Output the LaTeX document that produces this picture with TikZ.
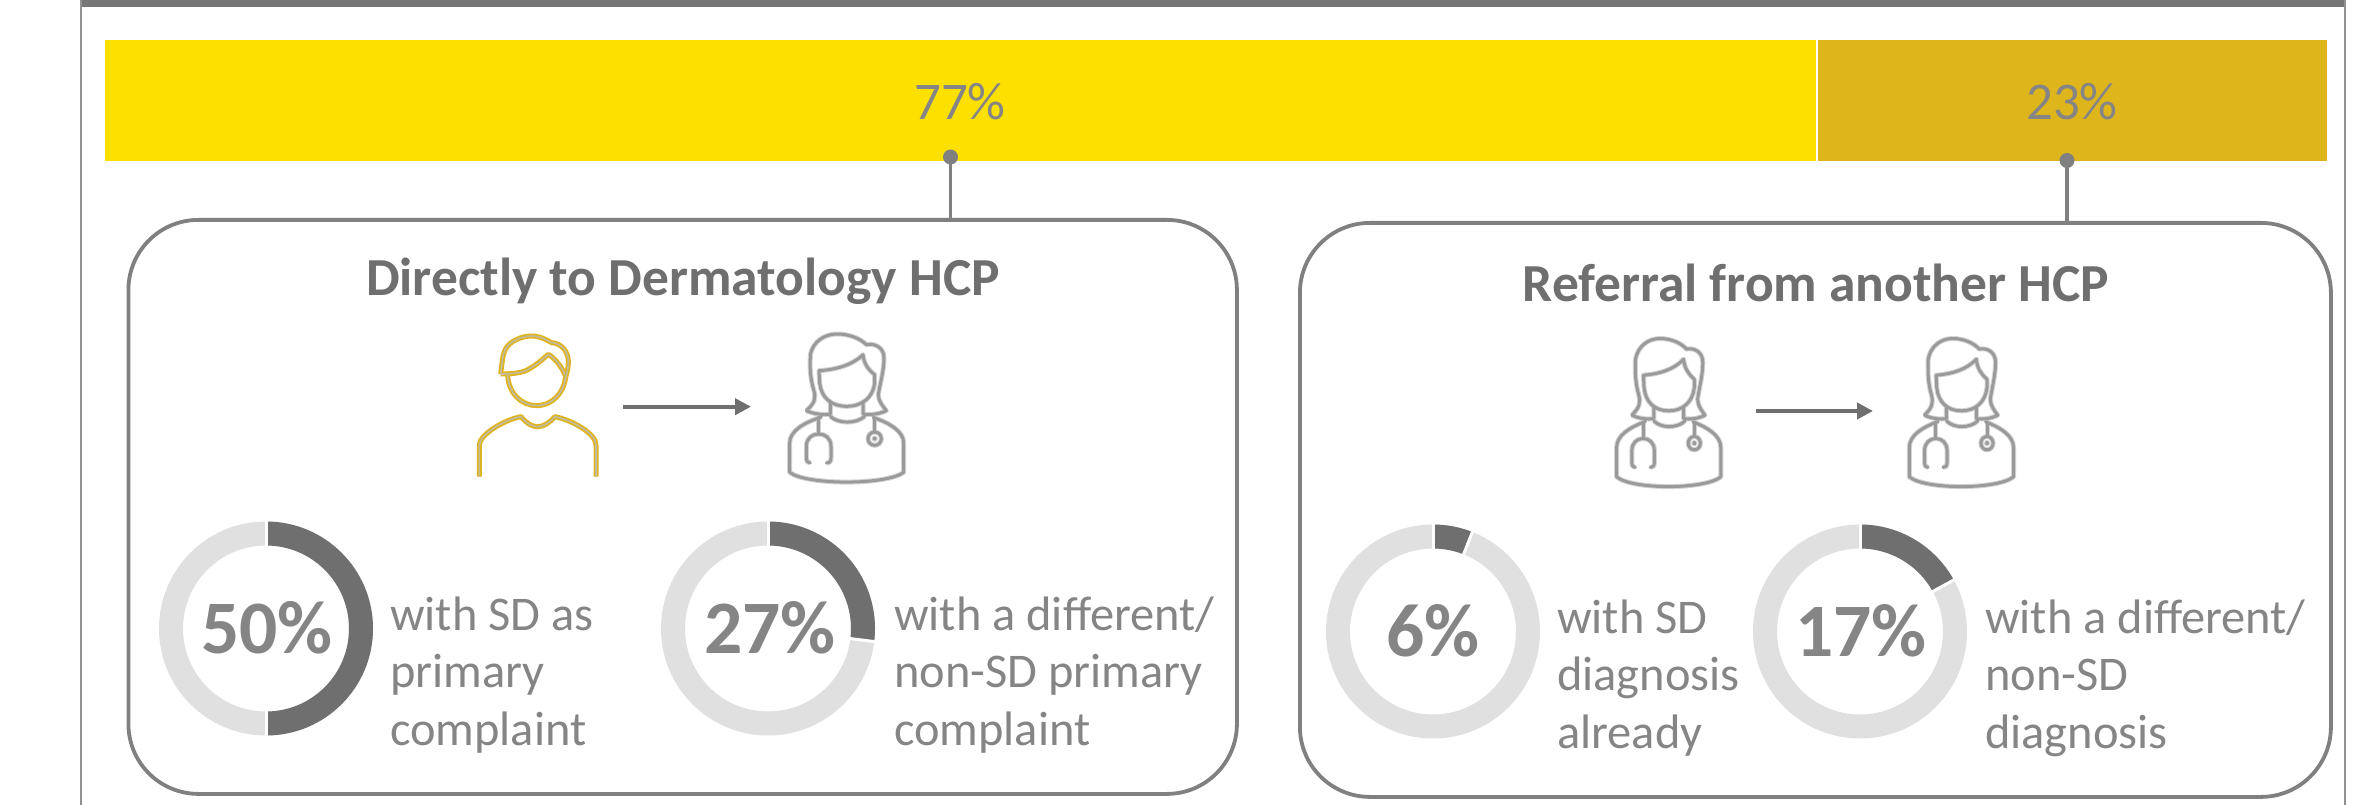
\documentclass[tikz,border=0pt]{standalone}
\usepackage{fontspec}
\setmainfont{Carlito}
\usetikzlibrary{arrows.meta,calc}
\definecolor{barA}{HTML}{FCE100}
\definecolor{barB}{HTML}{DFB51C}
\definecolor{frameC}{HTML}{767676}
\definecolor{boxC}{HTML}{808080}
\definecolor{ringC}{HTML}{E0E0E0}
\definecolor{darkC}{HTML}{6F6F6F}
\definecolor{labelC}{HTML}{858585}
\definecolor{pctC}{HTML}{858585}
\definecolor{iconC}{HTML}{9A9A9A}
\definecolor{iconG}{HTML}{D4D4D4}
\definecolor{manC}{HTML}{E0B41C}
\definecolor{manG}{HTML}{C2BBA0}
\tikzset{
  barbox/.style={draw=none,inner sep=0,minimum height=121pt,anchor=north west},
  barlabel/.style={text=labelC,font=\fontsize{53}{60}\selectfont,inner sep=0},
  panel/.style={draw=boxC,line width=3.8pt,rounded corners=70pt,fill=white,inner sep=0,anchor=north west},
  paneltitle/.style={text=darkC,font=\fontsize{53.5}{60}\selectfont\bfseries,inner sep=0},
  pct/.style={text=pctC,font=\fontsize{75.5}{80}\selectfont\bfseries,inner sep=0},
  desc/.style={text=labelC,font=\fontsize{48.4}{57.5}\selectfont,align=left,inner sep=0,anchor=west},
  stem/.style={draw=boxC,line width=3.8pt},
  dotmark/.style={fill=boxC,draw=none},
  flow/.style={draw=darkC,line width=4pt,-{Triangle[length=16pt,width=16pt]}},
  ring/.style={draw=ringC,line width=24pt},
  ringdark/.style={draw=darkC,line width=24pt},
  sep/.style={draw=white,line width=3pt},
}
\newcommand{\mydonut}[4]{%
  \coordinate (#1) at (#2,-#3);
  \draw[ring] (#1) circle[radius=95pt];
  \draw[ringdark] ($(#1)+(90:95pt)$) arc[start angle=90,end angle=#4,radius=95pt];
  \draw[sep] ($(#1)+(90:82pt)$) -- ($(#1)+(90:108pt)$);
  \draw[sep] ($(#1)+(#4:82pt)$) -- ($(#1)+(#4:108pt)$);
}
\newcommand{\docpaths}[1]{%
  \begin{scope}[#1]
  \draw (1100,298) .. controls (1125,275) and (1130,262) .. (1122,235) .. controls (1108,190) and (1112,150) .. (1112,130) .. controls (1120,90) and (1155,68) .. (1192,68) .. controls (1230,68) and (1262,82) .. (1280,100) .. controls (1300,95) and (1333,105) .. (1333,140) .. controls (1333,180) and (1320,220) .. (1316,250) .. controls (1316,270) and (1330,285) .. (1340,298) .. controls (1320,308) and (1290,312) .. (1270,308) -- (1270,275);
  \draw (1100,298) .. controls (1120,308) and (1155,312) .. (1172,308) -- (1172,270);
  \draw (1138,178) .. controls (1190,175) and (1240,160) .. (1270,130) .. controls (1272,155) and (1285,175) .. (1305,190) -- (1305,215) .. controls (1300,260) and (1265,285) .. (1222,285) .. controls (1175,285) and (1145,260) .. (1140,215) -- cycle;
  \draw (1172,315) .. controls (1195,338) and (1250,338) .. (1275,315);
  \draw (1145,317) .. controls (1090,335) and (1050,360) .. (1050,395) -- (1050,483) .. controls (1100,522) and (1340,522) .. (1392,483) -- (1392,395) .. controls (1392,360) and (1350,335) .. (1300,318);
  \draw (1137,318) -- (1137,368);
  \draw (1112,455) .. controls (1105,455) and (1100,450) .. (1100,440) -- (1100,405) .. controls (1100,380) and (1118,368) .. (1137,368) .. controls (1156,368) and (1174,380) .. (1174,405) -- (1174,440) .. controls (1174,450) and (1170,455) .. (1160,455);
  \draw (1305,318) -- (1305,362);
  \draw (1305,382) circle[radius=20];
  \draw (1305,382) circle[radius=2];
  \end{scope}}
\newcommand{\doctor}[3]{%
  \docpaths{shift={(#1,-#2)},xscale=#3/3,yscale=-1/3,shift={(-1222,-65)},draw=iconG,line width=5pt,line join=round}
  \docpaths{shift={(#1,-#2)},xscale=#3/3,yscale=-1/3,shift={(-1222,-65)},draw=iconC,line width=3pt,line join=round,line cap=round}}
\newcommand{\manpaths}[1]{%
  \begin{scope}[#1]
  \draw (182,192) .. controls (186,160) and (188,135) .. (195,120) .. controls (210,90) and (250,78) .. (275,78) .. controls (300,78) and (320,90) .. (335,98) .. controls (365,100) and (385,125) .. (385,155) .. controls (385,180) and (378,195) .. (375,210);
  \draw (182,192) .. controls (210,192) and (250,190) .. (270,175) .. controls (290,165) and (310,145) .. (325,133) .. controls (345,145) and (365,170) .. (375,195);
  \draw (203,195) .. controls (205,250) and (245,287) .. (290,287) .. controls (335,287) and (372,250) .. (377,200);
  \draw (118,500) -- (118,405) .. controls (118,375) and (190,330) .. (243,320) .. controls (260,340) and (275,350) .. (293,350) .. controls (312,350) and (328,338) .. (345,320) .. controls (395,330) and (468,370) .. (468,405) -- (468,500);
  \end{scope}}
\begin{document}
\begin{tikzpicture}[x=1pt,y=1pt]
\useasboundingbox (0,0) rectangle (2369,-805);
\fill[frameC] (81,0) rectangle (2345,-7);
\draw[frameC!80,line width=2pt] (81,0) -- (81,-805);
\draw[frameC!80,line width=2pt] (2345,0) -- (2345,-805);
\node[barbox,fill=barA,minimum width=1711pt] (barL) at (104.5,-40) {};
\node[barbox,fill=barB,minimum width=508.5pt] (barR) at (1818,-40) {};
\node[barlabel] (t77) at (960,-102) {77\%};
\node[barlabel] (t23) at (2072,-102) {23\%};
\node[panel,minimum width=1108.5pt,minimum height=574pt] (panelL) at (126.5,-218) {};
\node[panel,minimum width=1031pt,minimum height=574pt] (panelR) at (1298,-221) {};
\coordinate (dotL) at (950.5,-157);
\coordinate (dotR) at (2067,-160.5);
\draw[stem] (dotL) -- (dotL |- panelL.north);
\draw[stem] (dotR) -- (dotR |- panelR.north);
\fill[dotmark] (dotL) circle[radius=7.5pt];
\fill[dotmark] (dotR) circle[radius=7.5pt];
\node[paneltitle] (titleL) at (683,-281) {Directly to Dermatology HCP};
\node[paneltitle] (titleR) at (1816,-283) {Referral from another HCP};
\manpaths{shift={(440,-310)},xscale=1/3,yscale=-1/3,draw=manC,line width=5pt,line join=round}
\manpaths{shift={(440,-310)},xscale=1/3,yscale=-1/3,draw=manG,line width=1.6pt,line join=round}
\doctor{847}{333}{1}
\doctor{1669}{337.5}{0.914}
\doctor{1961.7}{337.5}{0.914}
\coordinate (fromL) at (623,-406.7);
\coordinate (toL) at (751,-406.7);
\coordinate (fromR) at (1756,-411);
\coordinate (toR) at (1873,-411);
\draw[flow] (fromL) -- (toL);
\draw[flow] (fromR) -- (toR);
\mydonut{d1}{266}{628.5}{-90}
\mydonut{d2}{768}{628.5}{-7}
\mydonut{d3}{1433}{631.5}{68.4}
\mydonut{d4}{1860}{631.5}{28.8}
\node[pct] (p1) at (267,-628) {50\%};
\node[pct] (p2) at (770,-628) {27\%};
\node[pct] (p3) at (1433,-631) {6\%};
\node[pct] (p4) at (1861,-631) {17\%};
\node[desc] (l1) at (390,-675) {with SD as\\primary\\complaint};
\node[desc] (l2) at (894,-675) {with a different/\\non-SD primary\\complaint};
\node[desc] (l3) at (1557,-678) {with SD\\diagnosis\\already};
\node[desc] (l4) at (1985,-678) {with a different/\\non-SD\\diagnosis};
\end{tikzpicture}
\end{document}
